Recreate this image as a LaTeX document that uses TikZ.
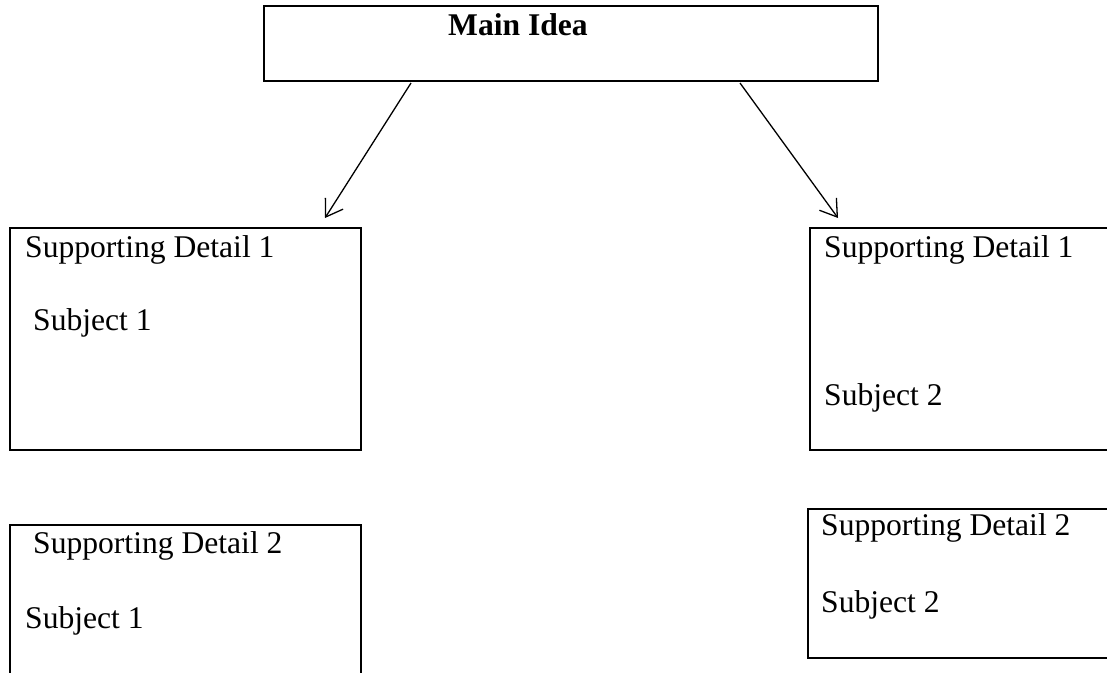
\documentclass[tikz,border=0pt]{standalone}
\usepackage{fontspec}
\setmainfont{Liberation Serif}
\usetikzlibrary{arrows.meta}
\tikzstyle{box} = [rectangle, draw, line width=2.2pt, inner sep=0pt, anchor=north west]
\tikzstyle{txt} = [inner sep=0pt, anchor=base west, font=\fontsize{31.6}{36}\selectfont]
\tikzstyle{line} = [draw, line width=1.3pt, -{Straight Barb[length=16pt,width=21pt,line width=1.3pt]}]

\begin{document}
\begin{tikzpicture}[x=1pt, y=-1pt]
    \useasboundingbox (0,0) rectangle (1107,672);
    \clip (0,0) rectangle (1107,672);
    % Place boxes
    \node [box, minimum width=614pt, minimum height=75pt] (main) at (263,5) {};
    \node [box, minimum width=351pt, minimum height=222pt] (detailA) at (9,227) {};
    \node [box, minimum width=330pt, minimum height=222pt] (detailB) at (809,227) {};
    \node [box, minimum width=351pt, minimum height=180pt] (detailC) at (9,524) {};
    \node [box, minimum width=330pt, minimum height=149pt] (detailD) at (807,508) {};

    % Place texts
    \node [txt, font=\fontsize{31.6}{36}\selectfont\bfseries] (mainText) at (448,35) {Main Idea};
    \node [txt] (detailAtop) at (25,257) {Supporting Detail 1};
    \node [txt] (detailAsub) at (33,330) {Subject 1};
    \node [txt] (detailBtop) at (824,257) {Supporting Detail 1};
    \node [txt] (detailBsub) at (824,405) {Subject 2};
    \node [txt] (detailCtop) at (33,553) {Supporting Detail 2};
    \node [txt] (detailCsub) at (25,628) {Subject 1};
    \node [txt] (detailDtop) at (821,535) {Supporting Detail 2};
    \node [txt] (detailDsub) at (821,612) {Subject 2};

    % Arrow ends
    \coordinate (startA) at (411,83);
    \coordinate (tipA) at (325,218);
    \coordinate (startB) at (740,83);
    \coordinate (tipB) at (838,218);

    % Draw edges
    \path [line] (startA) -- (tipA);
    \path [line] (startB) -- (tipB);
\end{tikzpicture}
\end{document}
